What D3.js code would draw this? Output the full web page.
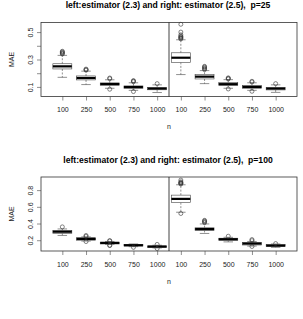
<!DOCTYPE html>
<html lang="en">
<head>
    <meta charset="UTF-8">
    <script src="https://d3js.org/d3.v7.min.js"></script>
    <style>
        body {margin: 0; background-color: #fff}
        svg {display: block; font-family: "Liberation Sans", Arial, sans-serif}
        .title {font-weight: bold; font-size: 8.6px; fill: #000; white-space: pre}
        .tick text, .lab {font-size: 7px; fill: #222}
        .frame {fill: none; stroke: #333; stroke-width: 0.8px}
    </style>
</head>
<body>
<svg class="chart"></svg>
<script type="text/javascript">
    // sample sizes, left 5 = estimator (2.3), right 5 = estimator (2.5)
    const groups = ["100", "250", "500", "750", "1000", "100", "250", "500", "750", "1000"];

    // p = 25
    const p25_lo  = [0.170, 0.117, 0.090, 0.075, 0.059, 0.190, 0.124, 0.090, 0.075, 0.060];
    const p25_q1  = [0.231, 0.151, 0.112, 0.090, 0.079, 0.279, 0.158, 0.109, 0.090, 0.078];
    const p25_med = [0.250, 0.165, 0.121, 0.099, 0.088, 0.313, 0.175, 0.120, 0.100, 0.088];
    const p25_q3  = [0.269, 0.180, 0.129, 0.107, 0.096, 0.349, 0.192, 0.131, 0.110, 0.095];
    const p25_hi  = [0.330, 0.215, 0.152, 0.130, 0.115, 0.444, 0.219, 0.153, 0.130, 0.115];
    const p25_out = [
        [0.34, 0.345, 0.35, 0.355, 0.36],
        [0.222, 0.226, 0.23],
        [0.16, 0.165, 0.083],
        [0.138, 0.142, 0.146, 0.066],
        [0.124],
        [0.45, 0.455, 0.46, 0.465, 0.47, 0.48, 0.5, 0.557],
        [0.226, 0.232, 0.238, 0.245, 0.25],
        [0.158, 0.162, 0.166, 0.085],
        [0.136, 0.141, 0.068],
        [0.124]
    ];

    // p = 100
    const p100_lo  = [0.257, 0.190, 0.150, 0.123, 0.108, 0.535, 0.281, 0.180, 0.130, 0.115];
    const p100_q1  = [0.283, 0.200, 0.155, 0.131, 0.112, 0.650, 0.317, 0.196, 0.143, 0.124];
    const p100_med = [0.302, 0.216, 0.168, 0.140, 0.124, 0.695, 0.333, 0.212, 0.160, 0.136];
    const p100_q3  = [0.317, 0.230, 0.176, 0.148, 0.131, 0.740, 0.349, 0.224, 0.172, 0.148];
    const p100_hi  = [0.335, 0.240, 0.185, 0.155, 0.140, 0.864, 0.395, 0.235, 0.185, 0.155];
    const p100_out = [
        [0.36],
        [0.245, 0.257, 0.184],
        [0.19, 0.196, 0.14, 0.136],
        [0.115],
        [0.15, 0.1],
        [0.873, 0.88, 0.885, 0.89, 0.9, 0.92, 0.52],
        [0.41, 0.42, 0.43, 0.438],
        [0.248],
        [0.195, 0.208, 0.125],
        [0.16]
    ];

    const yTicks25 = [0.1, 0.2, 0.3, 0.4, 0.5];
    const yLabels25 = ["0.1", "", "0.3", "", "0.5"];
    const yTicks100 = [0.2, 0.4, 0.6, 0.8];
    const yLabels100 = ["0.2", "0.4", "0.6", "0.8"];

    const width = 303, height = 319;
    const svg = d3.select('.chart').attr('width', width).attr('height', height);

    const x = d3.scaleLinear().domain([0.1, 10.9]).range([41, 297]);
    const boxW = (x(1) - x(0)) * 0.8;

    function panel(top, title, yDomain, yTicks, yLabels, lo, q1, med, q3, hi, out) {
        const g = svg.append('g').attr('transform', 'translate(0,' + top + ')');
        const y = d3.scaleLinear().domain(yDomain).range([96.5, 22.5]);

        g.append('text').attr('class', 'title')
            .attr('x', 168).attr('y', 8)
            .attr('xml:space', 'preserve')
            .attr('text-anchor', 'middle').text(title);

        const data = groups.map((n, i) => ({i: i + 1, lo: lo[i], q1: q1[i], med: med[i], q3: q3[i], hi: hi[i], out: out[i]}));
        const b = g.selectAll('g.box').data(data).enter().append('g').attr('class', 'box');

        // whiskers
        b.append('line').attr('x1', d => x(d.i)).attr('x2', d => x(d.i))
            .attr('y1', d => y(d.q3)).attr('y2', d => y(d.hi))
            .attr('stroke', '#444').attr('stroke-width', 0.6).attr('stroke-dasharray', '2,1.5');
        b.append('line').attr('x1', d => x(d.i)).attr('x2', d => x(d.i))
            .attr('y1', d => y(d.q1)).attr('y2', d => y(d.lo))
            .attr('stroke', '#444').attr('stroke-width', 0.6).attr('stroke-dasharray', '2,1.5');
        ['lo', 'hi'].forEach(k => {
            b.append('line').attr('x1', d => x(d.i) - boxW / 4).attr('x2', d => x(d.i) + boxW / 4)
                .attr('y1', d => y(d[k])).attr('y2', d => y(d[k]))
                .attr('stroke', '#444').attr('stroke-width', 0.6);
        });
        b.append('rect').attr('x', d => x(d.i) - boxW / 2).attr('width', boxW)
            .attr('y', d => y(d.q3)).attr('height', d => y(d.q1) - y(d.q3))
            .attr('fill', '#fff').attr('stroke', '#444').attr('stroke-width', 0.6);
        b.append('line').attr('x1', d => x(d.i) - boxW / 2).attr('x2', d => x(d.i) + boxW / 2)
            .attr('y1', d => y(d.med)).attr('y2', d => y(d.med))
            .attr('stroke', '#000').attr('stroke-width', 2.2);
        b.selectAll('circle').data(d => d.out.map(v => [d.i, v])).enter().append('circle')
            .attr('cx', d => x(d[0])).attr('cy', d => y(d[1])).attr('r', 2)
            .attr('fill', 'none').attr('stroke', '#333').attr('stroke-width', 0.6);

        // frame and divider between estimators
        g.append('rect').attr('class', 'frame')
            .attr('x', x.range()[0]).attr('y', y.range()[1])
            .attr('width', x.range()[1] - x.range()[0]).attr('height', y.range()[0] - y.range()[1]);
        g.append('line').attr('x1', x(5.5)).attr('x2', x(5.5))
            .attr('y1', y.range()[1]).attr('y2', y.range()[0])
            .attr('stroke', '#111').attr('stroke-width', 0.8);

        const xa = g.append('g').attr('transform', 'translate(0,' + y.range()[0] + ')')
            .call(d3.axisBottom(x).tickValues(d3.range(1, 11)).tickFormat(i => groups[i - 1])
                .tickSize(4).tickPadding(6.8).tickSizeOuter(0));
        xa.select('.domain').remove();
        xa.selectAll('line').attr('stroke', '#444').attr('stroke-width', 0.6);
        xa.selectAll('text').attr('font-family', null).attr('font-size', null).attr('fill', '#222');

        const ya = g.append('g').attr('transform', 'translate(' + x.range()[0] + ',0)')
            .call(d3.axisLeft(y).tickValues(yTicks).tickFormat((d, i) => yLabels[i]).tickSize(4).tickSizeOuter(0));
        ya.select('.domain').remove();
        ya.selectAll('line').attr('stroke', '#444').attr('stroke-width', 0.6);
        ya.selectAll('text').attr('font-family', null).attr('font-size', null).attr('fill', '#222')
            .attr('transform', 'rotate(-90)').attr('x', 0).attr('y', -8)
            .attr('dy', null).attr('text-anchor', 'middle');

        g.append('text').attr('class', 'lab').attr('x', 169).attr('y', 129.3)
            .attr('text-anchor', 'middle').text('n');
        g.append('text').attr('class', 'lab')
            .attr('transform', 'translate(13.5,' + (y.range()[0] + y.range()[1]) / 2 + ') rotate(-90)')
            .attr('text-anchor', 'middle').text('MAE');
    }

    panel(0, 'left:estimator (2.3) and right: estimator (2.5),  p=25', [0.03, 0.57],
        yTicks25, yLabels25, p25_lo, p25_q1, p25_med, p25_q3, p25_hi, p25_out);
    panel(154.5, 'left:estimator (2.3) and right: estimator (2.5),  p=100', [0.071, 0.957],
        yTicks100, yLabels100, p100_lo, p100_q1, p100_med, p100_q3, p100_hi, p100_out);
</script>
</body>
</html>
